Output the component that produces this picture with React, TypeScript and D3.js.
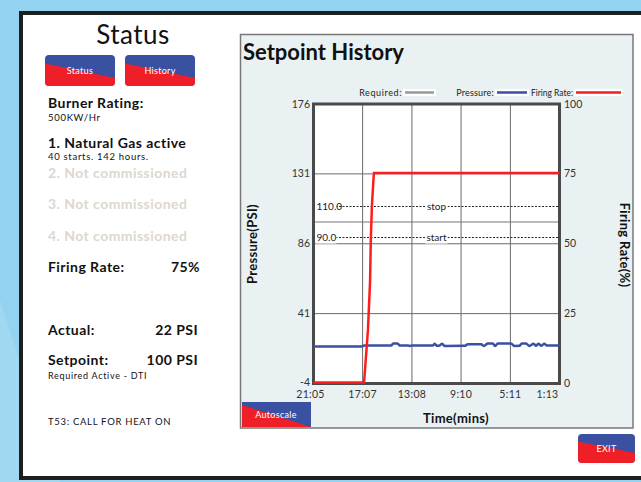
import React from "react";
import * as d3 from "d3";

// ---- data ----
const timeLabels = ["21:05", "17:07", "13:08", "9:10", "5:11", "1:13"];
const pressureTicks = [176, 131, 86, 41, -4];
const rateTicks = [100, 75, 50, 25, 0];
const requiredLevel = 100;
const stopLevel = 110;
const startLevel = 90;
// firing rate: [seconds remaining, %]
const firingRate: [number, number][] = [
  [1265, 0], [1020, 0], [1001, 19], [991, 36], [987, 52], [982, 63], [975, 72], [972, 75], [73, 75],
];
// pressure: [seconds remaining, PSI]
const pressure: [number, number][] = [
  [1265, 19.9], [1031, 19.9], [1020, 20.5], [887, 20.5], [879, 21.8], [858, 21.8], [847, 20.5],
  [805, 20.5], [798, 20.1], [790, 20.5], [686, 20.5], [678, 21.6], [667, 20.3], [654, 20.5],
  [642, 21.6], [629, 20.2], [533, 20.3], [517, 21.2], [452, 21.2], [440, 20.2], [420, 21.7],
  [396, 21.7], [385, 20.2], [372, 21.8], [308, 21.8], [292, 20.2], [267, 20.3], [256, 21.7],
  [235, 21.7], [219, 20.2], [198, 21.6], [187, 20.3], [176, 21.6], [160, 20.3], [147, 21.6],
  [134, 20.4], [73, 20.4],
];
const legendItems = ["Required:", "Pressure:", "Firing Rate:"];

const toSec = (s: string) => {
  const [m, ss] = s.split(":").map(Number);
  return m * 60 + ss;
};

const FONT = "Lato, 'DejaVu Sans', sans-serif";
const BLUE = "#3a50a0";
const RED = "#ee1f26";

function Button({ x, y, w, h, yl, yr, label, rx = 4, fs = 9 }: any) {
  const id = "clip" + label;
  return (
    <g>
      <defs>
        <clipPath id={id}>
          <rect x={x} y={y} width={w} height={h} rx={rx} />
        </clipPath>
      </defs>
      <g clipPath={`url(#${id})`}>
        <rect x={x} y={y} width={w} height={h} fill={BLUE} />
        <polygon points={`${x},${yl} ${x + w},${yr} ${x + w},${y + h} ${x},${y + h}`} fill={RED} />
      </g>
      <text x={x + w / 2} y={y + h / 2 + 3.5} textAnchor="middle" fill="#fff" fontSize={fs} fontFamily={FONT} letterSpacing={0.3}>
        {label}
      </text>
    </g>
  );
}

export default function App() {
  const tSec = timeLabels.map(toSec);
  const x = d3.scaleLinear().domain([tSec[0], tSec[tSec.length - 1]]).range([313.5, 559.5]);
  const yP = d3.scaleLinear().domain([-4, 176]).range([383.5, 104]);
  const yR = d3.scaleLinear().domain([0, 100]).range([383.5, 104]);
  const redLine = d3.line<[number, number]>().x((d) => x(d[0])).y((d) => yR(d[1]))(firingRate) || "";
  const blueLine = d3.line<[number, number]>().x((d) => x(d[0])).y((d) => yP(d[1])).curve(d3.curveMonotoneX)(pressure) || "";
  const [x0, x1] = x.range();

  const big = { fontSize: 14, fontWeight: 700, letterSpacing: 0.45 };
  const small = { fontSize: 9.5, letterSpacing: 0.7 };
  const leftText = (props: any, txt: string) => (
    <text fontFamily={FONT} {...props}>{txt}</text>
  );

  const legendLayout = [
    { lx: 405, lw: 29, color: "#999", ls: 0.6, tl: undefined },
    { lx: 497, lw: 30, color: BLUE, ls: 0.2, tl: undefined },
    { lx: 576, lw: 45, color: RED, ls: 0, tl: 42 },
  ];

  return (
    <svg width={641} height={482} style={{ position: "fixed", left: 0, top: 0 }}>
      <rect x={0} y={0} width={641} height={482} fill="#93d2f1" />
      <polygon points="0,300 60,482 0,482" fill="#a8dcf4" opacity={0.6} />
      <rect x={21} y={13} width={640} height={465} fill="#fff" stroke="#1e1e1e" strokeWidth={4} />

      {/* left status panel */}
      {leftText({ x: 133, y: 44, fontSize: 26, textAnchor: "middle", fill: "#111", letterSpacing: 0.5 }, "Status")}
      <Button x={45} y={55} w={70} h={31} yl={63.5} yr={78} label="Status" />
      <Button x={125} y={55} w={70} h={31} yl={63.5} yr={78} label="History" />
      {leftText({ x: 48, y: 108, ...big, fill: "#111" }, "Burner Rating:")}
      {leftText({ x: 48, y: 121, ...small, fill: "#111" }, "500KW/Hr")}
      {leftText({ x: 48, y: 148, ...big, fill: "#111" }, "1. Natural Gas active")}
      {leftText({ x: 48, y: 160, ...small, fill: "#111" }, "40 starts. 142 hours.")}
      {leftText({ x: 48, y: 178, ...big, fill: "#ddd7ce" }, "2. Not commissioned")}
      {leftText({ x: 48, y: 209, ...big, fill: "#ddd7ce" }, "3. Not commissioned")}
      {leftText({ x: 48, y: 241, ...big, fill: "#ddd7ce" }, "4. Not commissioned")}
      {leftText({ x: 48, y: 272, ...big, fill: "#111" }, "Firing Rate:")}
      {leftText({ x: 200, y: 272, ...big, fill: "#111", textAnchor: "end" }, "75%")}
      {leftText({ x: 48, y: 335, ...big, fill: "#111" }, "Actual:")}
      {leftText({ x: 198, y: 335, ...big, fill: "#111", textAnchor: "end" }, "22 PSI")}
      {leftText({ x: 48, y: 365, ...big, fill: "#111" }, "Setpoint:")}
      {leftText({ x: 198, y: 365, ...big, fill: "#111", textAnchor: "end" }, "100 PSI")}
      {leftText({ x: 48, y: 379, ...small, fontSize: 9, fill: "#111" }, "Required Active - DTI")}
      {leftText({ x: 48, y: 425, ...small, fill: "#111" }, "T53: CALL FOR HEAT ON")}

      {/* chart panel */}
      <rect x={240.5} y={34.5} width={392.5} height={393.5} fill="#e9f1f3" stroke="#777" strokeWidth={1.5} />
      {leftText({ x: 243, y: 60, fontSize: 22, fontWeight: 700, fill: "#111" }, "Setpoint History")}

      {/* legend */}
      {legendItems.map((label, i) => {
        const l = legendLayout[i];
        return (
          <g key={label}>
            <text x={l.lx - 3} y={96} textAnchor="end" fontSize={9} fontFamily={FONT} fill="#222" letterSpacing={l.ls}
              {...(l.tl ? { textLength: l.tl, lengthAdjust: "spacingAndGlyphs" } : {})}>{label}</text>
            <rect x={l.lx - 2} y={89} width={l.lw + 4} height={7} fill="#fff" />
            <line x1={l.lx} x2={l.lx + l.lw} y1={92.5} y2={92.5} stroke={l.color} strokeWidth={2.5} />
          </g>
        );
      })}

      {/* plot */}
      <rect x={x0} y={104} width={x1 - x0} height={383.5 - 104} fill="#fff" />
      {tSec.slice(1, -1).map((t) => (
        <line key={t} x1={x(t)} x2={x(t)} y1={104} y2={383.5} stroke="#6a6a6a" strokeWidth={1} />
      ))}
      {pressureTicks.slice(1, -1).map((p) => (
        <line key={p} x1={x0} x2={x1} y1={yP(p)} y2={yP(p)} stroke="#6a6a6a" strokeWidth={1} />
      ))}
      <line x1={x0} x2={x1} y1={yP(requiredLevel)} y2={yP(requiredLevel)} stroke="#777" strokeWidth={1.2} />
      {[
        { v: stopLevel, name: "stop" },
        { v: startLevel, name: "start" },
      ].map((s) => {
        const yy = yP(s.v);
        const cx = (x0 + x1) / 2;
        return (
          <g key={s.name}>
            <line x1={x0 + 22} x2={x1} y1={yy} y2={yy} stroke="#222" strokeWidth={1} strokeDasharray="2,1.5" />
            <rect x={x0 + 2} y={yy - 6} width={21} height={12} fill="#fff" />
            <text x={x0 + 3} y={yy + 3.5} fontSize={10} fontFamily={FONT} fill="#222">{s.v.toFixed(1)}</text>
            <rect x={cx - 11} y={yy - 6} width={22} height={12} fill="#fff" />
            <text x={cx} y={yy + 3.5} textAnchor="middle" fontSize={10} fontFamily={FONT} fill="#222">{s.name}</text>
          </g>
        );
      })}
      <rect x={x0} y={104} width={x1 - x0} height={383.5 - 104} fill="none" stroke="#4a4a4a" strokeWidth={3} />
      <path d={blueLine} fill="none" stroke={BLUE} strokeWidth={2.5} />
      <path d={redLine} fill="none" stroke="#ff1c1c" strokeWidth={2.5} transform="translate(0,-1)" />

      {/* axes labels */}
      {pressureTicks.map((p) => (
        <text key={p} x={310} y={yP(p) + (p === pressureTicks[pressureTicks.length - 1] ? 2 : 3.5)} textAnchor="end" fontSize={10.5} fontFamily={FONT} fill="#333">{p}</text>
      ))}
      {rateTicks.map((r) => (
        <text key={r} x={564} y={yR(r) + 3.5} fontSize={10.5} fontFamily={FONT} fill="#333">{r}</text>
      ))}
      {timeLabels.map((l, i) => {
        const last = i === timeLabels.length - 1;
        return (
          <text key={l} x={last ? x1 - 1 : x(tSec[i]) - (i === 0 ? 3 : 0)} y={398} textAnchor={last ? "end" : "middle"} fontSize={10.5} fontFamily={FONT} fill="#333" letterSpacing={0.3}>{l}</text>
        );
      })}
      <text transform="translate(257,244) rotate(-90)" textAnchor="middle" fontSize={13} fontWeight={700} fontFamily={FONT} fill="#111" letterSpacing={0.3}>Pressure(PSI)</text>
      <text transform="translate(620,245) rotate(90)" textAnchor="middle" fontSize={13} fontWeight={700} fontFamily={FONT} fill="#111" letterSpacing={0.3}>Firing Rate(%)</text>
      <text x={456} y={423} textAnchor="middle" fontSize={13} fontWeight={700} fontFamily={FONT} fill="#111" letterSpacing={0.3}>Time(mins)</text>

      {/* autoscale */}
      <g>
        <rect x={242} y={402} width={69} height={25} fill={BLUE} />
        <polygon points="242,405 311,427 242,427" fill={RED} />
        <text x={276} y={418} textAnchor="middle" fontSize={9} fontFamily={FONT} fill="#fff" letterSpacing={0.3}>Autoscale</text>
      </g>

      <Button x={578} y={434} w={57} h={29} yl={441.5} yr={453} label="EXIT" />
    </svg>
  );
}
